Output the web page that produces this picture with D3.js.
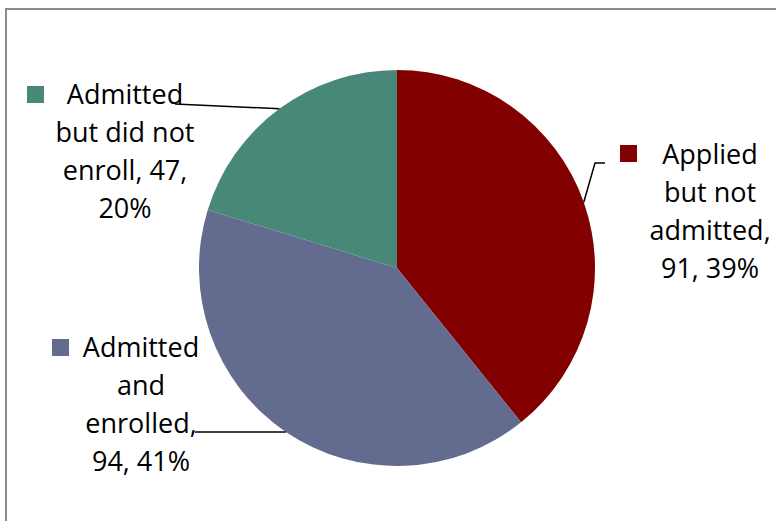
<!DOCTYPE html>
<html>
<head>
<meta charset="utf-8">
<script src="https://cdn.jsdelivr.net/npm/d3@7"></script>
<style>
  body { margin: 0; background: #fff; }
  svg text { font-family: "Open Sans", "Noto Sans", sans-serif; }
</style>
</head>
<body>
<svg id="chart" width="776" height="521"></svg>
<script>
// data
var categories = ["Applied but not admitted", "Admitted and enrolled", "Admitted but did not enroll"];
var values = [91, 94, 47];
var colors = ["#820000", "#636b8e", "#488879"];
// words per line for each data label
var label_breaks = [[1, 2, 1, 2], [1, 1, 1, 2], [1, 3, 2, 1]];

// layout (label centre x, first line y, leader end, legend square)
var label_layout = [
    {x: 710, y: 155, lead: [[595, 163], [605, 163]], key: [620, 145]},
    {x: 141, y: 348, lead: [[195, 432]], key: [52, 339]},
    {x: 125, y: 95,  lead: [[175, 104]], key: [27, 86]}
];

var width = 776, height = 521;
var cx = 397, cy = 268, radius = 198;
var line_h = 37.7;

var svg = d3.select("#chart");

svg.append("rect")
    .attr("x", 6).attr("y", 9)
    .attr("width", width + 10).attr("height", height + 10)
    .attr("fill", "none")
    .attr("stroke", "#8a8a8a")
    .attr("stroke-width", 2);

var pie = d3.pie().sort(null).value(d => d);
var arcs = pie(values);
var arc = d3.arc().innerRadius(0).outerRadius(radius);

var g = svg.append("g").attr("transform", "translate(" + cx + "," + cy + ")");

g.selectAll("path.slice")
    .data(arcs)
    .enter().append("path")
        .attr("class", "slice")
        .attr("d", arc)
        .attr("fill", (d, i) => colors[i]);

var total = d3.sum(values);

function label_lines(i) {
    var words = (categories[i] + ", " + values[i] + ", " + Math.round(values[i] / total * 100) + "%").split(" ");
    var lines = [], k = 0;
    label_breaks[i].forEach(function(n) {
        lines.push(words.slice(k, k + n).join(" "));
        k += n;
    });
    return lines;
}

// labels
arcs.forEach(function(d, i) {
    var lay = label_layout[i];
    var t = svg.append("text")
        .attr("text-anchor", "middle")
        .attr("font-size", 27)
        .attr("fill", "#000");
    label_lines(i).forEach(function(s, j) {
        t.append("tspan")
            .attr("x", lay.x)
            .attr("y", lay.y + j * line_h)
            .attr("dy", "0.35em")
            .text(s);
    });
    svg.append("rect")
        .attr("x", lay.key[0]).attr("y", lay.key[1])
        .attr("width", 17).attr("height", 17)
        .attr("fill", colors[i]);
});

// leader lines from slice mid angle on the rim
arcs.forEach(function(d, i) {
    var a = (d.startAngle + d.endAngle) / 2;
    var pts = [[cx + radius * Math.sin(a), cy - radius * Math.cos(a)]].concat(label_layout[i].lead);
    svg.append("path")
        .attr("d", d3.line()(pts))
        .attr("fill", "none")
        .attr("stroke", "#000")
        .attr("stroke-width", 1.5);
});
</script>
</body>
</html>
